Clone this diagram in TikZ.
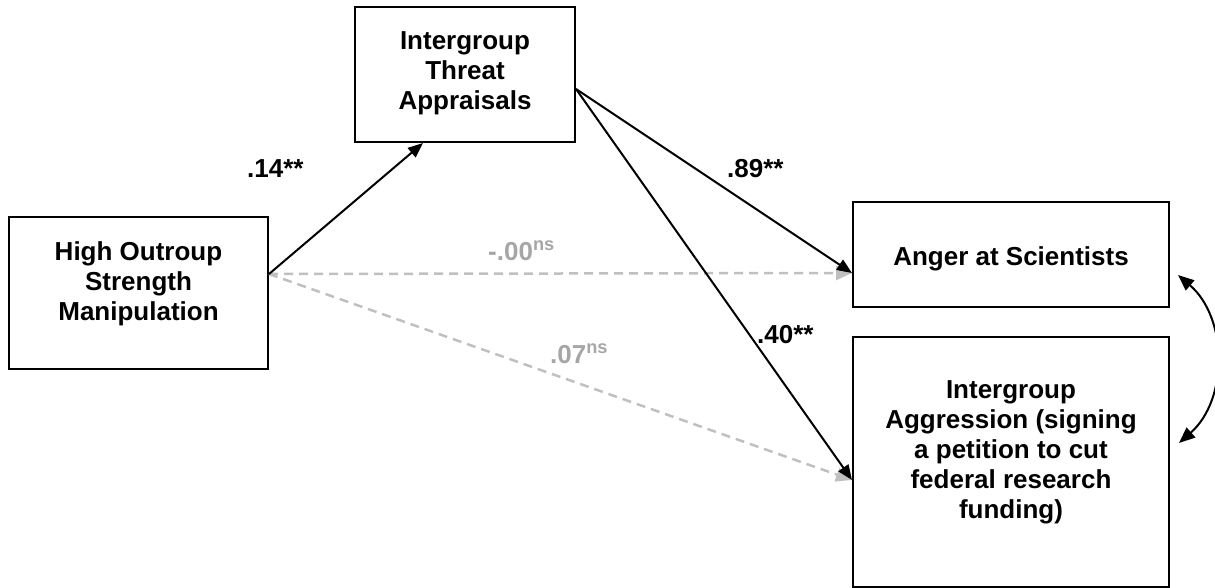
\documentclass[tikz,border=0pt]{standalone}
\usepackage{fontspec}
\setmainfont{Liberation Sans}
\usetikzlibrary{arrows.meta}
\definecolor{nsgray}{RGB}{166,166,166}
\definecolor{dashgray}{RGB}{192,192,192}
\tikzset{
  varbox/.style={draw, line width=2pt, inner sep=0pt},
  vartext/.style={align=center, font=\fontsize{26}{30}\selectfont\bfseries},
  coef/.style={anchor=base west, inner sep=0pt, font=\fontsize{26}{30}\selectfont\bfseries},
  sigarrow/.style={line width=2pt, -{Triangle[length=15pt,width=12pt]}},
  nsarrow/.style={line width=2.5pt, dashgray, dash pattern=on 9pt off 6pt,
    -{Triangle[length=16pt,width=14pt]}},
  corarrow/.style={line width=2pt,
    {Triangle[length=16pt,width=13pt]}-{Triangle[length=16pt,width=13pt]}}
}

\begin{document}
\begin{tikzpicture}[x=1pt,y=-1pt]
\useasboundingbox (0,0) rectangle (1215,588);
% variables
\node[varbox, minimum width=259pt, minimum height=152pt] (src) at (138.5,293) {};
\node[vartext] (srctxt) at (138.5,284) {High Outroup\\Strength\\Manipulation};
\node[varbox, minimum width=220pt, minimum height=135pt] (med) at (465,74.5) {};
\node[vartext] (medtxt) at (465,73) {Intergroup\\Threat\\Appraisals};
\node[varbox, minimum width=316pt, minimum height=105pt] (anger) at (1011,254.5) {};
\node[vartext] (angertxt) at (1011,258.5) {Anger at Scientists};
\node[varbox, minimum width=316pt, minimum height=250pt] (aggr) at (1011,462) {};
\node[vartext] (aggrtxt) at (1011,452) {Intergroup\\Aggression (signing\\a petition to cut\\federal research\\funding)};

% paths
\coordinate (srcout) at ([yshift=19pt]src.east);
\coordinate (medout) at ([yshift=-14.5pt]med.east);
\coordinate (angerin) at ([yshift=-18.5pt]anger.west);
\coordinate (aggrin) at ([yshift=-18pt]aggr.west);
\draw[nsarrow] (srcout) -- (angerin);
\draw[nsarrow] (srcout) -- (aggrin);
\draw[sigarrow] (srcout) -- ([xshift=-42pt]med.south);
\draw[sigarrow] (medout) -- (angerin);
\draw[sigarrow] (medout) -- (aggrin);
\draw[corarrow] ([xshift=8pt,yshift=-20.5pt]anger.east) to[bend left=49] ([xshift=9pt,yshift=19pt]aggr.east);

% coefficients
\node[coef] (b14) at (247,178) {.14**};
\node[coef] (b89) at (727,178) {.89**};
\node[coef] (b40) at (757,343) {.40**};
\node[coef, text=nsgray] (b00) at (488,260) {-.00\textsuperscript{ns}};
\node[coef, text=nsgray] (b07) at (550,363) {.07\textsuperscript{ns}};
\end{tikzpicture}
\end{document}
